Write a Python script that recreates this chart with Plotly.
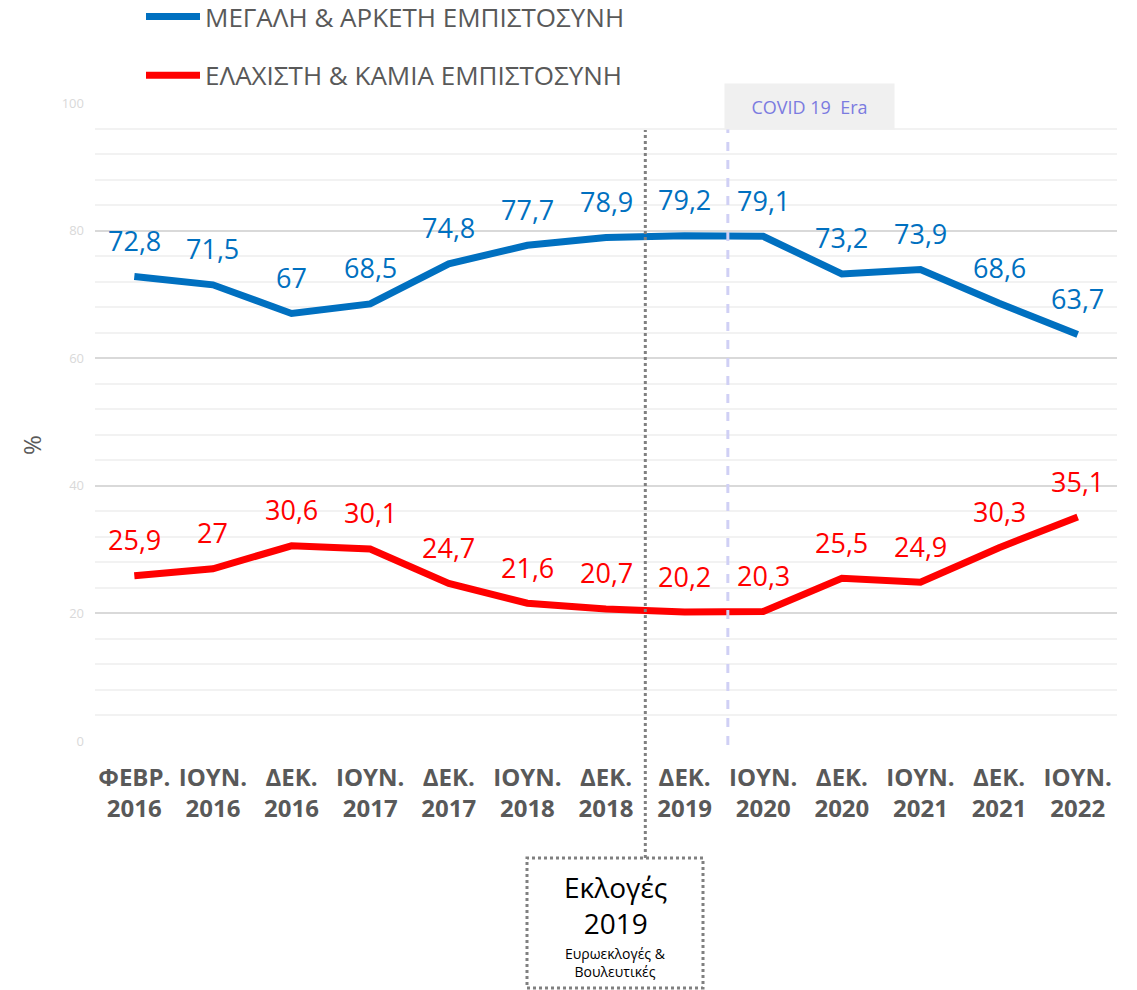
import plotly.graph_objects as go

months = ["ΦΕΒΡ.", "ΙΟΥΝ.", "ΔΕΚ.", "ΙΟΥΝ.", "ΔΕΚ.", "ΙΟΥΝ.", "ΔΕΚ.",
          "ΔΕΚ.", "ΙΟΥΝ.", "ΔΕΚ.", "ΙΟΥΝ.", "ΔΕΚ.", "ΙΟΥΝ."]
years = ["2016", "2016", "2016", "2017", "2017", "2018", "2018",
         "2019", "2020", "2020", "2021", "2021", "2022"]
high_trust = [72.8, 71.5, 67, 68.5, 74.8, 77.7, 78.9, 79.2, 79.1, 73.2, 73.9, 68.6, 63.7]
low_trust = [25.9, 27, 30.6, 30.1, 24.7, 21.6, 20.7, 20.2, 20.3, 25.5, 24.9, 30.3, 35.1]
series_names = ["ΜΕΓΑΛΗ & ΑΡΚΕΤΗ ΕΜΠΙΣΤΟΣΥΝΗ", "ΕΛΑΧΙΣΤΗ & ΚΑΜΙΑ ΕΜΠΙΣΤΟΣΥΝΗ"]
colors = ["#0070C0", "#FF0000"]

xs = list(range(len(months)))
ticktext = [f"{m}<br>{y}" for m, y in zip(months, years)]

FONT = "Open Sans"
GRAY = "#595959"

W, H = 1137, 990
L, R, T, B = 95, 20, 103, 249
PH = H - T - B
PW = W - L - R


def py(pixel_y):
    """Convert a page pixel row to paper y."""
    return (H - B - pixel_y) / PH


def px(pixel_x):
    """Convert a page pixel column to paper x."""
    return (pixel_x - L) / PW


fig = go.Figure()
for i, (name, vals) in enumerate(zip(series_names, [high_trust, low_trust])):
    fig.add_trace(go.Scatter(
        x=xs, y=vals, mode="lines", name=name, legendgroup=f"g{i}",
        line=dict(color=colors[i], width=7),
        hoverinfo="skip",
    ))

annotations = []
for vals, c in zip([high_trust, low_trust], colors):
    for x, v in zip(xs, vals):
        annotations.append(dict(
            x=x, y=v, xref="x", yref="y", text=f"{v:g}".replace(".", ","),
            showarrow=False, yshift=36, font=dict(family=FONT, size=27, color=c),
        ))

# y-axis title
annotations.append(dict(
    x=px(31), xref="paper", xanchor="center", y=py(445), yref="paper", yanchor="middle",
    text="%", textangle=-90,
    showarrow=False, font=dict(family=FONT, size=24, color=GRAY),
))
# COVID box
annotations.append(dict(
    x=7.5, xref="x", xanchor="left", y=py(130), yref="paper", yanchor="bottom",
    text="COVID 19  Era", showarrow=False, width=169, height=45, borderpad=0,
    bgcolor="#F0F0F0", font=dict(family=FONT, size=18, color="#7B7BE0"),
))
# Elections box text
annotations.append(dict(
    x=px(615), xref="paper", y=py(905), yref="paper", yanchor="middle",
    text="Εκλογές<br>2019", showarrow=False,
    font=dict(family=FONT, size=28, color="#000000"),
))
annotations.append(dict(
    x=px(615), xref="paper", y=py(962), yref="paper", yanchor="middle",
    text="Ευρωεκλογές &<br>Βουλευτικές", showarrow=False,
    font=dict(family=FONT, size=14, color="#000000"),
))

shapes = [
    dict(type="line", xref="x", yref="paper", x0=6.5, x1=6.5, y0=py(858), y1=py(130),
         line=dict(color="#808080", width=3, dash="dot")),
    dict(type="line", xref="x", yref="paper", x0=7.55, x1=7.55, y0=py(745), y1=py(128),
         line=dict(color="#D0D0F5", width=3, dash="dash")),
    dict(type="rect", xref="paper", yref="paper",
         x0=px(527), x1=px(703), y0=py(988), y1=py(858),
         line=dict(color="#808080", width=3, dash="dot"), fillcolor="rgba(0,0,0,0)"),
]

fig.update_layout(
    width=W, height=H,
    margin=dict(l=L, r=R, t=T, b=B, autoexpand=False),
    paper_bgcolor="white", plot_bgcolor="white",
    font=dict(family=FONT, color=GRAY),
    showlegend=True,
    legend=dict(
        x=px(141), xref="paper", xanchor="left",
        y=py(-7), yref="paper", yanchor="top",
        font=dict(family=FONT, size=26, color=GRAY),
        traceorder="grouped", tracegroupgap=22,
        bgcolor="rgba(0,0,0,0)", itemwidth=54,
    ),
    xaxis=dict(
        range=[-0.5, 12.5], tickmode="array", tickvals=xs, ticktext=ticktext,
        showgrid=False, zeroline=False, showline=False, ticks="", tickangle=0,
        tickfont=dict(family=FONT, size=24, color=GRAY, weight="bold"),
        ticklabelstandoff=20,
    ),
    yaxis=dict(
        range=[0, 100], dtick=20, showgrid=True, gridcolor="#D9D9D9", gridwidth=2,
        zeroline=False, showline=False, ticks="",
        tickfont=dict(family=FONT, size=13, color="#D9D9D9"),
        minor=dict(dtick=4, showgrid=True, gridcolor="#F2F2F2", gridwidth=2),
        ticklabelstandoff=10,
    ),
    annotations=annotations,
    shapes=shapes,
)

fig.write_html("out.html", config={"displayModeBar": False},
               post_script="document.body.style.margin='0';")
